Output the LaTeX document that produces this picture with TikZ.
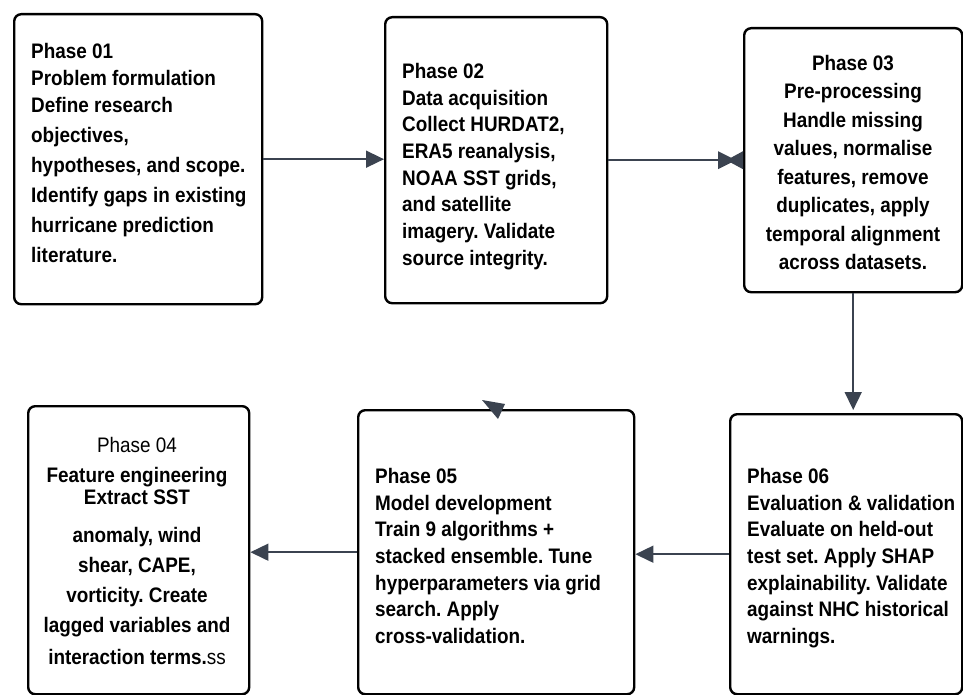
\documentclass[tikz,border=0pt]{standalone}
\usepackage{fontspec}
\setmainfont{Liberation Sans}[FakeStretch=0.9]
\usetikzlibrary{arrows.meta}
\definecolor{arrowc}{HTML}{3B4350}
\begin{document}
\frenchspacing
\begin{tikzpicture}[x=1pt,y=-1pt,
  phase/.style={draw=black,line width=2.4pt,rounded corners=7pt,fill=white,anchor=north west,inner sep=0pt},
  txt/.style={inner sep=0pt,font=\fontsize{21}{30}\selectfont\bfseries,align=left,anchor=north west},
  ctxt/.style={txt,align=center,anchor=north},
  conn/.style={draw=arrowc,line width=1.6pt,-{Triangle[length=18pt,width=17pt]}},
  link/.style={draw=arrowc,line width=1.6pt}]
\useasboundingbox (0,0) rectangle (963,695);
% boxes
\node[phase,minimum width=248pt,minimum height=290pt] (p1) at (13,13) {};
\node[phase,minimum width=222pt,minimum height=286pt] (p2) at (384,16) {};
\node[phase,minimum width=218pt,minimum height=264pt] (p3) at (743,27) {};
\node[phase,minimum width=221pt,minimum height=288pt] (p4) at (27,405) {};
\node[phase,minimum width=276pt,minimum height=284pt] (p5) at (357,409) {};
\node[phase,minimum width=232pt,minimum height=280pt] (p6) at (729,413) {};
% texts
\node[txt] (t1) at (31,43) {Phase 01\\[-3pt]Problem formulation\\[-3pt]Define research\\objectives,\\hypotheses, and scope.\\Identify gaps in existing\\hurricane prediction\\literature.};
\node[txt,font=\fontsize{21}{26.7}\selectfont\bfseries] (t2) at (402,63) {Phase 02\\Data acquisition\\Collect HURDAT2,\\ERA5 reanalysis,\\NOAA SST grids,\\and satellite\\imagery. Validate\\source integrity.};
\node[ctxt,font=\fontsize{21}{28.5}\selectfont\bfseries] (t3) at (853,55) {Phase 03\\Pre-processing\\Handle missing\\values, normalise\\features, remove\\duplicates, apply\\temporal alignment\\across datasets.};
\node[ctxt] (t4) at (137,437) {{\mdseries Phase 04}\\Feature engineering\\[-8pt]Extract SST\\[8pt]anomaly, wind\\shear, CAPE,\\vorticity. Create\\lagged variables and\\[2pt]interaction terms.{\mdseries ss}};
\node[txt,font=\fontsize{21}{26.7}\selectfont\bfseries] (t5) at (375,468) {Phase 05\\Model development\\Train 9 algorithms +\\stacked ensemble. Tune\\hyperparameters via grid\\search. Apply\\cross-validation.};
\node[txt,font=\fontsize{21}{26.7}\selectfont\bfseries] (t6) at (747,468) {Phase 06\\Evaluation \& validation\\Evaluate on held-out\\test set. Apply SHAP\\explainability. Validate\\against NHC historical\\warnings.};
% connectors
\draw[conn] (p1.east) -- (p2.west |- p1.east);
\draw[link] (p2.east) -- (p3.west);
\fill[arrowc,shift={(p3.west)}] (-25,-9) -- (-12,-2.5) -- (0,-9) -- (0,9) -- (-12,2.5) -- (-25,9) -- cycle;
\draw[conn] (p3.south) -- ([yshift=3pt]p3.south |- p6.north);
\draw[conn] (p6.west) -- (p5.east |- p6.west);
\draw[conn] (p5.west) -- (p4.east |- p5.west);
\fill[arrowc] (482,400) -- (505,404) -- (498,419) -- cycle;
\end{tikzpicture}
\end{document}
